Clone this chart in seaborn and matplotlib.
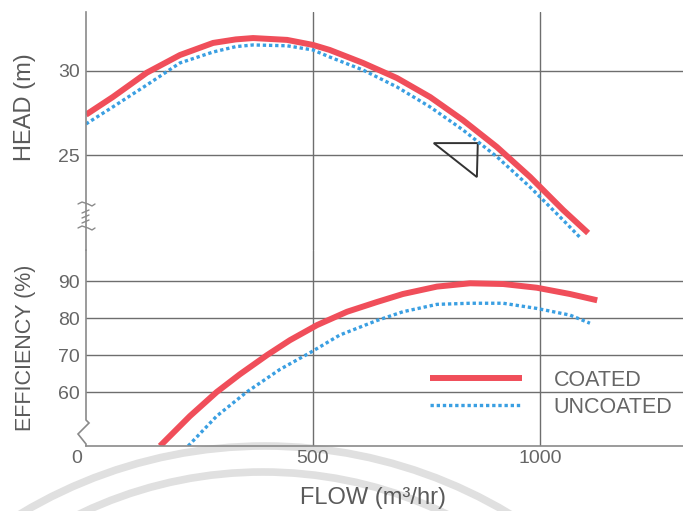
import numpy as np
import pandas as pd
import matplotlib
matplotlib.use("Agg")
import matplotlib.pyplot as plt
import matplotlib.transforms as mtransforms
from matplotlib.patches import Circle
import seaborn as sns

# pump curves
head_flow_coated = [0, 59, 134, 207, 280, 330, 368, 443, 500, 537, 610, 685, 758, 830, 905, 978, 1051, 1106]
head_coated = [27.4, 28.45, 29.9, 30.95, 31.67, 31.88, 31.96, 31.85, 31.55, 31.25, 30.48, 29.58, 28.45, 27.08, 25.48, 23.7, 21.73, 20.36]

head_flow_uncoated = [0, 59, 134, 207, 280, 330, 368, 443, 500, 537, 610, 685, 758, 830, 905, 978, 1051, 1088]
head_uncoated = [26.85, 27.86, 29.17, 30.48, 31.13, 31.45, 31.55, 31.5, 31.25, 30.83, 30.06, 29.05, 27.86, 26.5, 24.9, 23.1, 21.13, 20.1]

eff_flow_coated = [163, 229, 288, 339, 399, 449, 509, 575, 640, 698, 773, 846, 919, 993, 1066, 1126]
eff_coated = [45.4, 53.5, 60.0, 64.8, 70.0, 74.0, 78.1, 81.7, 84.3, 86.5, 88.5, 89.4, 89.2, 88.2, 86.5, 84.8]

eff_flow_uncoated = [225, 288, 354, 427, 493, 559, 640, 698, 773, 846, 919, 993, 1066, 1110]
eff_uncoated = [45.4, 53.5, 60.0, 66.1, 70.6, 75.4, 79.3, 81.7, 83.7, 84.0, 84.0, 82.6, 80.8, 78.6]

head_ticks = [25, 30]
eff_ticks = [60, 70, 80, 90]
flow_ticks = [0, 500, 1000]

# the little water-level triangle
tri_flow = [766, 863, 861, 766]
tri_head = [25.71, 25.71, 23.69, 25.71]

RED = "#f04e5a"
BLUE = "#3a9fe2"
GRID = "#6e6e6e"
TXT = "#5a5a5a"

sns.set_style("white")
plt.rcParams["font.family"] = ["Liberation Sans", "DejaVu Sans"]

fig = plt.figure(figsize=(6.83, 5.11), dpi=100)
W, H = 683, 511
ax_top = fig.add_axes([86 / W, (H - 250) / H, 597 / W, 238 / H])
ax_bot = fig.add_axes([86 / W, (H - 446) / H, 597 / W, 196 / H], sharex=ax_top)

head_df = pd.DataFrame({
    "flow": head_flow_coated + head_flow_uncoated,
    "head": head_coated + head_uncoated,
    "series": ["COATED"] * len(head_coated) + ["UNCOATED"] * len(head_uncoated),
})
eff_df = pd.DataFrame({
    "flow": eff_flow_coated + eff_flow_uncoated,
    "eff": eff_coated + eff_uncoated,
    "series": ["COATED"] * len(eff_coated) + ["UNCOATED"] * len(eff_uncoated),
})

styles = {
    "COATED": dict(color=RED, linewidth=4.3, linestyle="-"),
    "UNCOATED": dict(color=BLUE, linewidth=2.4, linestyle=(0, (1.0, 0.85))),
}

for name, st in styles.items():
    sub = head_df[head_df["series"] == name]
    sns.lineplot(data=sub, x="flow", y="head", ax=ax_top, sort=False,
                 estimator=None, legend=False, solid_capstyle="butt",
                 solid_joinstyle="round", dash_capstyle="butt", **st)
    sub = eff_df[eff_df["series"] == name]
    sns.lineplot(data=sub, x="flow", y="eff", ax=ax_bot, sort=False,
                 estimator=None, label=name, solid_capstyle="butt",
                 solid_joinstyle="round", dash_capstyle="butt", **st)

ax_top.fill(tri_flow, tri_head, facecolor="none", edgecolor="#333333", linewidth=1.4)

ax_top.set_xlim(0, 1315)
ax_top.set_ylim(19.35, 33.51)
ax_bot.set_ylim(45.4, 98.4)
ax_top.set_yticks(head_ticks)
ax_bot.set_yticks(eff_ticks)
ax_bot.set_xticks(flow_ticks)

for ax in (ax_top, ax_bot):
    ax.set_facecolor("none")
    ax.grid(True, color=GRID, linewidth=1.0)
    ax.get_xgridlines()[0].set_visible(False)
    for s in ("top", "right", "bottom", "left"):
        ax.spines[s].set_visible(False)
    ax.tick_params(length=0, labelsize=14, labelcolor="#666666", pad=4.5)

ax_top.spines["left"].set_visible(True)
ax_top.spines["left"].set_color("#8a8a8a")
ax_top.spines["left"].set_linewidth(1.2)
ax_top.tick_params(axis="x", labelbottom=False)
ax_bot.spines["bottom"].set_visible(True)
ax_bot.spines["bottom"].set_color("#8a8a8a")
ax_bot.spines["bottom"].set_linewidth(1.2)
ax_bot.tick_params(axis="x", pad=3)


def px_line(ax, pts, w_px, h_px, **kw):
    xs = [p[0] / w_px for p in pts]
    ys = [p[1] / h_px for p in pts]
    ax.plot(xs, ys, transform=ax.transAxes, clip_on=False, **kw)


# left spine of the efficiency panel with the zig-zag break
px_line(ax_bot, [(0, 196), (0, 26), (3, 23), (-8, 12), (0, 2), (0, 0)], 597, 196,
        color="#8a8a8a", linewidth=1.2, solid_joinstyle="miter")

# break mark on the head axis
brk = dict(color="#8a8a8a", linewidth=1.0)
px_line(ax_top, [(-8, 46), (-4, 48), (2, 46), (6, 44), (9, 46)], 597, 238, **brk)
px_line(ax_top, [(-8, 22), (-4, 24), (2, 22), (6, 20), (9, 22)], 597, 238, **brk)
for yy in (39, 34, 29):
    px_line(ax_top, [(-4, yy - 2), (3, yy + 1)], 597, 238, **brk)

# move the "0" label slightly left like the original
lbl0 = ax_bot.get_xticklabels()[0]
lbl0.set_transform(lbl0.get_transform() + mtransforms.ScaledTranslation(-0.09, 0, fig.dpi_scale_trans))

ax_top.set_xlabel("")
ax_top.set_ylabel("HEAD (m)", fontsize=17, color=TXT, va="center")
ax_top.yaxis.set_label_coords(-0.102, 0.60)
ax_bot.set_ylabel("EFFICIENCY (%)", fontsize=15.5, color=TXT, va="center")
ax_bot.yaxis.set_label_coords(-0.102, 0.50)
ax_bot.set_xlabel("FLOW (m³/hr)", fontsize=17, color=TXT, va="center")
ax_bot.xaxis.set_label_coords(0.481, -0.265)

leg = ax_bot.legend(loc="upper left", bbox_to_anchor=(0.576, 0.39), frameon=False,
                    fontsize=15.5, handlelength=4.3, handletextpad=1.45,
                    labelspacing=0.3, borderpad=0, borderaxespad=0,
                    labelcolor="#666666")

# faint watermark arcs from the scan
for cx, cy, r in [(265, 921, 475), (263, 894, 422)]:
    c = Circle((cx / 100, (H - cy) / 100), r / 100, transform=fig.dpi_scale_trans,
               fill=False, edgecolor="#e0e0e0", linewidth=5.5, zorder=-5)
    fig.add_artist(c)

fig.savefig("out.png", dpi=100)
